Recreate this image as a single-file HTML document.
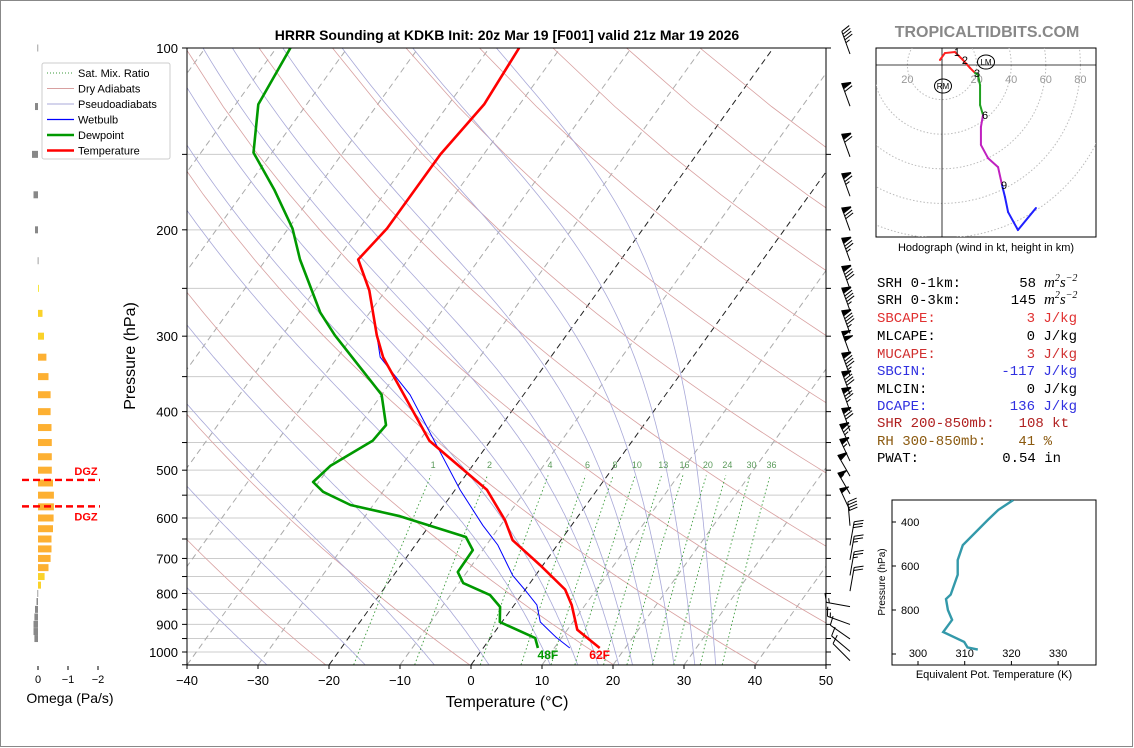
<!DOCTYPE html>
<html><head><meta charset="utf-8"><title>HRRR Sounding KDKB</title>
<style>
html,body{margin:0;padding:0;background:#fff;}
#wrap{position:relative;width:1134px;height:748px;overflow:hidden;}
svg{position:absolute;left:0;top:0;font-family:"Liberation Sans",sans-serif;}
</style></head>
<body>
<div id="wrap">
<svg id="fig" width="1134" height="748" viewBox="0 0 1134 748">
<rect x="0.5" y="0.5" width="1132" height="746" fill="#fff" stroke="#888" stroke-width="1"/>
<text x="507" y="40" text-anchor="middle" font-size="14" font-weight="bold">HRRR Sounding at KDKB Init: 20z Mar 19 [F001] valid 21z Mar 19 2026</text>
<text x="987" y="37" text-anchor="middle" font-size="16" font-weight="bold" fill="#888">TROPICALTIDBITS.COM</text>
<defs>
<clipPath id="plotclip"><rect x="187" y="48" width="639" height="617"/></clipPath>
<clipPath id="hodoclip"><rect x="876" y="48" width="220" height="189"/></clipPath>
<clipPath id="thclip"><rect x="892" y="500" width="204" height="165"/></clipPath>
</defs>
<g id="bg" clip-path="url(#plotclip)"></g>
<g id="series" clip-path="url(#plotclip)"></g>
<g id="axes"></g>
<g id="barbs"></g>
<g id="omega"></g>
<g id="hodo"></g>
<g id="theta"></g>
<g id="params" font-family="Liberation Mono, monospace" font-size="14">
<text x="877" y="287">SRH 0-1km:</text><text x="1036" y="287" text-anchor="end">58</text><text x="1044" y="287" font-family="Liberation Serif, serif" font-style="italic" font-size="15">m<tspan font-size="10" dy="-6">2</tspan><tspan dy="6">s</tspan><tspan font-size="10" dy="-6">−2</tspan></text>
<text x="877" y="304">SRH 0-3km:</text><text x="1036" y="304" text-anchor="end">145</text><text x="1044" y="304" font-family="Liberation Serif, serif" font-style="italic" font-size="15">m<tspan font-size="10" dy="-6">2</tspan><tspan dy="6">s</tspan><tspan font-size="10" dy="-6">−2</tspan></text>
<text x="877" y="322" fill="#e03030">SBCAPE:</text><text x="1077" y="322" text-anchor="end" fill="#e03030">3 J/kg</text>
<text x="877" y="340">MLCAPE:</text><text x="1077" y="340" text-anchor="end">0 J/kg</text>
<text x="877" y="358" fill="#d03030">MUCAPE:</text><text x="1077" y="358" text-anchor="end" fill="#d03030">3 J/kg</text>
<text x="877" y="375" fill="#3030e0">SBCIN:</text><text x="1077" y="375" text-anchor="end" fill="#3030e0">-117 J/kg</text>
<text x="877" y="393">MLCIN:</text><text x="1077" y="393" text-anchor="end">0 J/kg</text>
<text x="877" y="410" fill="#3030e0">DCAPE:</text><text x="1077" y="410" text-anchor="end" fill="#3030e0">136 J/kg</text>
<text x="877" y="427" fill="#b02020">SHR 200-850mb:</text><text x="1069" y="427" text-anchor="end" fill="#b02020">108 kt</text>
<text x="877" y="445" fill="#8b5a10">RH 300-850mb:</text><text x="1052" y="445" text-anchor="end" fill="#8b5a10">41 %</text>
<text x="877" y="462">PWAT:</text><text x="1061" y="462" text-anchor="end">0.54 in</text>
</g>
</svg>
</div>
<script>
// ---------- data ----------
const tempP = [100,124,150,199,224,252,299,325,447,539,605,653,718,788,836,919,985];
const tempT = [-55.8,-55,-56.1,-56.1,-57,-52.3,-46.7,-43.6,-28.6,-15.5,-9.9,-6.8,-0.4,5.6,8.1,11.4,16.4];
const dewP = [100,124,149,172,199,224,274,299,375,421,447,492,523,543,571,596,645,678,737,769,805,842,892,948,985];
const dewT = [-88,-86.8,-82.6,-75.8,-69.4,-65.2,-57,-52.6,-40,-36.3,-36.6,-40,-40.8,-38.4,-33.2,-25.1,-13.7,-11.4,-11.3,-9.4,-4.4,-1.8,-0.3,6.3,7.7];
const wbP = [100,124,150,199,224,252,299,325,375,431,539,617,665,747,788,836,892,946,985];
const wbT = [-55.8,-55,-56.1,-56.1,-57,-52.3,-46.7,-44,-36,-29.6,-19.3,-12.5,-8.4,-3.2,-0.1,3.2,5.4,9.2,12.2];
const sfcLabels = ['48F','62F'];
const mixRatios = [1,2,4,6,8,10,13,16,20,24,30,36];
const mixLabels = ['1','2','4','6','8','10','13','16','20','24','30','36'];
const dryThetas = [-24,-4,16,36,56,76,96,116,136,156,176,196];
const moistT0 = [-32,-18,-8,0,9,13,16,19,21,24,27,30,33];
const xTickVals = [-40,-30,-20,-10,0,10,20,30,40,50];
const yTickVals = [100,200,300,400,500,600,700,800,900,1000];
const omegaP = [100,125,150,175,200,225,250,275,300,325,350,375,400,425,450,475,500,525,550,575,600,625,650,675,700,725,750,775,800,825,850,875,900,925,950];
const omegaV = [0.02,0.1,0.2,0.15,0.1,0.01,-0.03,-0.15,-0.2,-0.28,-0.35,-0.42,-0.42,-0.45,-0.46,-0.46,-0.46,-0.5,-0.53,-0.53,-0.52,-0.5,-0.45,-0.45,-0.42,-0.35,-0.22,-0.1,0.02,0.05,0.1,0.12,0.15,0.15,0.12];
const dgzP = [519,574];
const barbP = [100,122,148,172,196,220,245,266,290,314,341,366,390,421,446,472,500,535,570,604,651,688,730,775,822,880,930,975,1010];
const barbDir = [340,340,340,340,340,340,340,340,340,340,340,340,340,340,335,335,330,330,335,355,10,10,10,10,280,290,305,310,315];
const barbSpd = [45,70,70,75,80,85,90,95,95,100,95,90,85,80,75,65,60,55,50,40,30,25,25,20,15,15,10,10,10];
const hodoU = [-1.2,1.7,7.5,12.1,16.2,19.1,20.8,22,22,23.7,22.5,22.5,26.6,32.4,34.7,36.4,38.2,43.9,54.3];
const hodoV = [2.9,6.9,7.5,2.9,-1.7,-4.6,-5.8,-11.6,-23.1,-28.9,-35.8,-46.2,-53.8,-59,-69.4,-76.3,-85,-95.4,-82.7];
const hodoH = [0,0.7,1,1.8,2.4,3,3,4,5,6,6,7,7.8,8.4,9,9,10,11,12];
const hodoMarkIdx = [2,3,5,9,14];
const hodoMarkLbl = ['1','2','3','6','9'];
const thetaP = [300,345,390,505,573,640,730,750,800,845,900,945,970,980];
const thetaE = [320.4,317.2,315,309.6,308.5,308.5,307,306,306.4,307.3,305.4,309.9,310.6,312.8];
const thetaXTicks = [300,310,320,330];
const thetaYTicks = [400,600,800];

// ---------- helpers ----------
const NS='http://www.w3.org/2000/svg';
function mk(tag, attrs, parent){const e=document.createElementNS(NS,tag);for(const k in attrs)e.setAttribute(k,attrs[k]);parent.appendChild(e);return e;}
const yP = p => 48 + 604*Math.log10(p/100);
const xT = (T,p) => 187 + (T+40)*7.1 + 0.72*(665 - yP(p));
const bg=document.getElementById('bg'), series=document.getElementById('series'), axes=document.getElementById('axes');
function polyPts(Ts,Ps){return Ts.map((t,i)=>xT(t,Ps[i]).toFixed(1)+','+yP(Ps[i]).toFixed(1)).join(' ');}

for(let p=100;p<=1050;p+=50){
  const l=mk('line',{x1:187,x2:826,y1:yP(p),y2:yP(p),stroke:'#ccc','stroke-width':1},bg);
  
  
}
for(let T=-140;T<=50;T+=10){
  const black=(T===0||T===-20);
  const l=mk('line',{x1:xT(T,1050),y1:yP(1050),x2:xT(T,100),y2:yP(100),stroke:black?'#222':'#aaa','stroke-width':1,'stroke-dasharray':'6,4'},bg);
  
  
}
dryThetas.forEach(th=>{
  const pts=[];
  for(let p=1050;p>=100;p-=25){const T=(th+273.15)*Math.pow(p/1000,0.286)-273.15;pts.push(xT(T,p).toFixed(1)+','+yP(p).toFixed(1));}
  const l=mk('polyline',{points:pts.join(' '),fill:'none',stroke:'#d8a0a0','stroke-width':0.8},bg);
  
  
});
function es(T){return 6.112*Math.exp(17.67*T/(T+243.5));}
function dTdp(T,p){const Tk=T+273.15,e=es(T),rs=0.622*e/(p-e),Rd=287,cp=1004,Lv=2.5e6;return (1/p)*(Rd*Tk+Lv*rs)/(cp+Lv*Lv*rs*0.622/(Rd*Tk*Tk));}
moistT0.forEach(T0=>{
  const up=[];let T=T0;
  for(let p=1000;p>=100;p-=5){up.push([T,p]);T-=dTdp(T,p)*5;}
  T=T0;const dn=[];for(let p=1000;p<=1050;p+=5){dn.unshift([T,p]);T+=dTdp(T,p)*5;}
  const all=dn.concat(up);
  const l=mk('polyline',{points:all.map(a=>xT(a[0],a[1]).toFixed(1)+','+yP(a[1]).toFixed(1)).join(' '),fill:'none',stroke:'#a8a8d8','stroke-width':0.8},bg);
  
  
});
function tFromW(w,p){const e=w*p/(622+w),a=Math.log(e/6.112);return 243.5*a/(17.67-a);}
mixRatios.forEach((w,i)=>{
  const pts=[];for(let p=1050;p>=510;p-=10)pts.push(xT(tFromW(w,p),p).toFixed(1)+','+yP(p).toFixed(1));
  const l=mk('polyline',{points:pts.join(' '),fill:'none',stroke:'#3a9a3a','stroke-width':0.9,'stroke-dasharray':'1.5,2.5'},bg);
  
  
  const t=mk('text',{x:xT(tFromW(w,500),500),y:yP(490)+3,'text-anchor':'middle','font-size':9,fill:'#5a9a5a'},bg);
  t.textContent=mixLabels[i];
  
  
});
const wb=mk('polyline',{points:polyPts(wbT,wbP),fill:'none',stroke:'#0000ff','stroke-width':1},series);


const dw=mk('polyline',{points:polyPts(dewT,dewP),fill:'none',stroke:'#009900','stroke-width':2.6,'stroke-linejoin':'round'},series);


const tp=mk('polyline',{points:polyPts(tempT,tempP),fill:'none',stroke:'#ff0000','stroke-width':2.6,'stroke-linejoin':'round'},series);


const sfcD=dewT[dewT.length-1], sfcT=tempT[tempT.length-1], sfcP=tempP[tempP.length-1];
const dl=mk('text',{x:xT(sfcD,sfcP)+10,y:yP(sfcP)+11,'text-anchor':'middle','font-size':12,'font-weight':'bold',fill:'#009900'},series);
dl.textContent=sfcLabels[0];


const tl=mk('text',{x:xT(sfcT,sfcP),y:yP(sfcP)+11,'text-anchor':'middle','font-size':12,'font-weight':'bold',fill:'#ff0000'},series);
tl.textContent=sfcLabels[1];



const fr=mk('rect',{x:187,y:48,width:639,height:617,fill:'none',stroke:'#000','stroke-width':1},axes);


xTickVals.forEach(v=>{
  const x=187+(v+40)*7.1;
  const l=mk('line',{x1:x,x2:x,y1:665,y2:669,stroke:'#000'},axes);
  
  
  const t=mk('text',{x:x,y:685,'text-anchor':'middle','font-size':13},axes);
  t.textContent=(v<0?'−':'')+Math.abs(v);
  
  
});
for(let p=100;p<=1050;p+=50){
  const y=yP(p);
  const l=mk('line',{x1:182,x2:187,y1:y,y2:y,stroke:'#000'},axes);
  
  
  const r=mk('line',{x1:826,x2:831,y1:y,y2:y,stroke:'#000'},axes);
  
  
}
yTickVals.forEach(p=>{
  const t=mk('text',{x:178,y:yP(p)+5,'text-anchor':'end','font-size':13},axes);
  t.textContent=p;
  
  
});
const xt=mk('text',{x:507,y:707,'text-anchor':'middle','font-size':16},axes);
xt.textContent='Temperature (°C)';


const yt=mk('text',{x:0,y:0,'text-anchor':'middle','font-size':16,transform:'translate(135,356) rotate(-90)'},axes);
yt.textContent='Pressure (hPa)';



const lg=mk('g',{},axes);


const lbox=mk('rect',{x:42,y:63,width:128,height:96,fill:'#fff',stroke:'#ccc',rx:2},lg);


[['Sat. Mix. Ratio','#3a9a3a',0.9,'1,2'],['Dry Adiabats','#d8a0a0',0.9,''],['Pseudoadiabats','#a8a8d8',0.9,''],['Wetbulb','#0000ff',1.2,''],['Dewpoint','#009900',2.6,''],['Temperature','#ff0000',2.6,'']].forEach((e,i)=>{
  const y=73+i*15.5;
  const l=mk('line',{x1:47,x2:74,y1:y,y2:y,stroke:e[1],'stroke-width':e[2],'stroke-dasharray':e[3]||'none'},lg);
  
  
  const t=mk('text',{x:78,y:y+4,'font-size':11},lg);
  t.textContent=e[0];
  
  
});

const og=document.getElementById('omega');
const ox=v=>38+30*(-v);
omegaP.forEach((p,i)=>{
  const v=omegaV[i],x0=ox(0),x1=ox(v);
  const c=v>=0?'#888':(v>-0.1?'#f5e62a':(v>-0.25?'#fad22a':'#fdb032'));
  const r=mk('rect',{x:Math.min(x0,x1),y:yP(p)-3.5,width:Math.max(Math.abs(x1-x0),0.8),height:7,fill:c},og);
  
  
});
[0,-1,-2].forEach(v=>{
  const l=mk('line',{x1:ox(v),x2:ox(v),y1:666,y2:670,stroke:'#000'},og);
  
  
  const t=mk('text',{x:ox(v),y:683,'text-anchor':'middle','font-size':11},og);
  t.textContent=v===0?'0':'−'+Math.abs(v);
  
  
});
const ot=mk('text',{x:70,y:703,'text-anchor':'middle','font-size':14},og);
ot.textContent='Omega (Pa/s)';


dgzP.forEach((p,i)=>{
  const y=yP(p);
  const l=mk('line',{x1:22,x2:100,y1:y,y2:y,stroke:'#ff0000','stroke-width':2.4,'stroke-dasharray':'7,4'},og);
  
  
  const t=mk('text',{x:86,y:i===0?y-5:y+14,'text-anchor':'middle','font-size':11,'font-weight':'bold',fill:'#ff0000'},og);
  t.textContent='DGZ';
  
  
});

const bgp=document.getElementById('barbs');
barbP.forEach((p,i)=>{
  const sx=850, sy=yP(p)+6, d=barbDir[i]*Math.PI/180, L=24;
  const ux=Math.sin(d), uy=-Math.cos(d), px=-uy, py=ux;
  const g=mk('g',{stroke:'#000','stroke-width':1,fill:'#000'},bgp);
  
  
  const tx=sx+ux*L, ty=sy+uy*L;
  mk('line',{x1:sx,y1:sy,x2:tx,y2:ty},g);
  let s=Math.round(barbSpd[i]/5)*5, pos=0;
  while(s>=50){const ax=tx-ux*pos,ay=ty-uy*pos;mk('polygon',{points:`${ax},${ay} ${ax+px*9-ux*2},${ay+py*9-uy*2} ${ax-ux*4.5},${ay-uy*4.5}`},g);pos+=5.5;s-=50;}
  while(s>=10){const ax=tx-ux*pos,ay=ty-uy*pos;mk('line',{x1:ax,y1:ay,x2:ax+px*9+ux*3,y2:ay+py*9+uy*3},g);pos+=3;s-=10;}
  if(s>=5){if(pos===0)pos=3;const ax=tx-ux*pos,ay=ty-uy*pos;mk('line',{x1:ax,y1:ay,x2:ax+px*4.5+ux*1.5,y2:ay+py*4.5+uy*1.5},g);}
});

const hg=document.getElementById('hodo');
const hox=942, hoy=65, hs=1.73;
const hbox=mk('rect',{x:876,y:48,width:220,height:189,fill:'#fff',stroke:'#000'},hg);


const hc=mk('g',{'clip-path':'url(#hodoclip)'},hg);


[20,40,60,80,100].forEach(r=>{
  const c=mk('circle',{cx:hox,cy:hoy,r:r*hs,fill:'none',stroke:'#bbb','stroke-dasharray':'1.5,2'},hc);
  
  
});
const hxa=mk('line',{x1:876,x2:1096,y1:hoy,y2:hoy,stroke:'#000','stroke-width':0.8},hc);


const hya=mk('line',{x1:hox,x2:hox,y1:48,y2:237,stroke:'#000','stroke-width':0.8},hc);


[[-20,'20'],[20,'20'],[40,'40'],[60,'60'],[80,'80']].forEach(a=>{
  const t=mk('text',{x:hox+a[0]*hs,y:hoy+18,'text-anchor':'middle','font-size':11,fill:'#999'},hc);
  t.textContent=a[1];
  
  
});
const hcol=h=>h<3?'#ff2020':(h<6?'#20a020':(h<9?'#c020c0':'#2020ff'));
for(let i=0;i<hodoU.length-1;i++){
  const l=mk('line',{x1:hox+hodoU[i]*hs,y1:hoy-hodoV[i]*hs,x2:hox+hodoU[i+1]*hs,y2:hoy-hodoV[i+1]*hs,stroke:hcol(hodoH[i]),'stroke-width':2,'stroke-linecap':'round'},hc);
  
  
}
hodoMarkIdx.forEach((k,i)=>{
  const t=mk('text',{x:hox+hodoU[k]*hs+2,y:hoy-hodoV[k]*hs+4,'text-anchor':'middle','font-size':11,fill:'#000'},hc);
  t.textContent=hodoMarkLbl[i];
  
  
});
[[986,62,'LM'],[943,86,'RM']].forEach(m=>{
  const c=mk('ellipse',{cx:m[0],cy:m[1],rx:8.5,ry:7,fill:'none',stroke:'#000','stroke-width':1},hc);
  
  
  const t=mk('text',{x:m[0],y:m[1]+3,'text-anchor':'middle','font-size':8},hc);
  t.textContent=m[2];
  
  
});
const hcap=mk('text',{x:986,y:251,'text-anchor':'middle','font-size':11},hg);
hcap.textContent='Hodograph (wind in kt, height in km)';



const tg=document.getElementById('theta');
const thx=v=>918+(v-300)*4.67, thy=p=>522+(p-400)*0.22;
const tbox=mk('rect',{x:892,y:500,width:204,height:165,fill:'#fff',stroke:'#000'},tg);


const tline=mk('polyline',{points:thetaE.map((v,i)=>thx(v).toFixed(1)+','+thy(thetaP[i]).toFixed(1)).join(' '),fill:'none',stroke:'#3399aa','stroke-width':2.4,'clip-path':'url(#thclip)'},tg);


thetaXTicks.forEach(v=>{
  const t=mk('text',{x:thx(v),y:657,'text-anchor':'middle','font-size':11},tg);
  t.textContent=v;
  
  
  const k=mk('line',{x1:thx(v),x2:thx(v),y1:665,y2:661,stroke:'#000'},tg);
  
  
});
thetaYTicks.concat([1000]).forEach(p=>{
  const k=mk('line',{x1:892,x2:896,y1:thy(p),y2:thy(p),stroke:'#000'},tg);
  
  
});
thetaYTicks.forEach(p=>{
  const t=mk('text',{x:901,y:thy(p)+4,'font-size':11},tg);
  t.textContent=p;
  
  
});
const tyl=mk('text',{x:0,y:0,'text-anchor':'middle','font-size':10,transform:'translate(885,582) rotate(-90)'},tg);
tyl.textContent='Pressure (hPa)';


const txl=mk('text',{x:994,y:678,'text-anchor':'middle','font-size':11},tg);
txl.textContent='Equivalent Pot. Temperature (K)';


</script>
</body></html>
